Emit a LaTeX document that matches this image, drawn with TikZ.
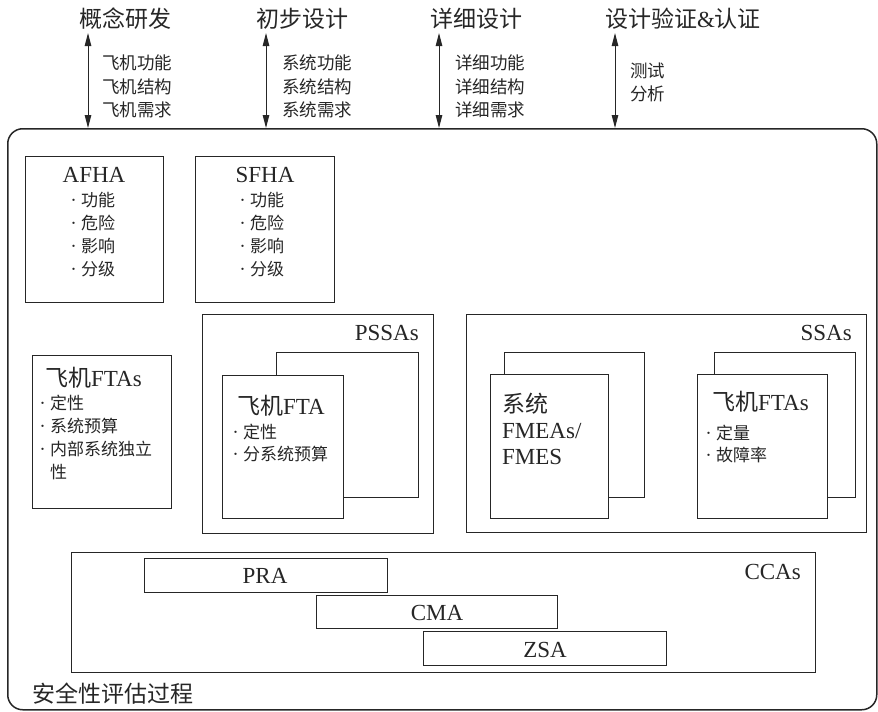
\documentclass[tikz,border=0pt]{standalone}
\usepackage{fontspec}
\setmainfont{Liberation Serif}
\newfontfamily\cjkf{Noto Sans CJK SC}
\usetikzlibrary{arrows.meta}
\definecolor{ink}{HTML}{262626}
\newcommand\zh[1]{{\cjkf #1}}
\newcommand\bu{\raisebox{2pt}{\fontsize{11}{11}\selectfont\textbullet}\hspace{2pt}}
\begin{document}
\begin{tikzpicture}[x=1pt,y=-1pt,
  every node/.style={text=ink, inner sep=0pt},
  box/.style={draw=ink, line width=1.3pt, fill=white, anchor=north west},
  hdr/.style={font=\fontsize{23}{23}\selectfont\cjkf},
  sub/.style={font=\fontsize{17.5}{23.5}\selectfont\cjkf, align=left, anchor=west},
  ttl/.style={font=\fontsize{23}{23}\selectfont},
  lst/.style={font=\fontsize{17}{23}\selectfont\cjkf, align=left, anchor=west},
  lab/.style={font=\fontsize{23}{23}\selectfont, anchor=east},
  arr/.style={{Triangle[length=13pt,width=6.5pt]}-{Triangle[length=13pt,width=6.5pt]}, line width=1pt, draw=ink, fill=ink}]
\useasboundingbox (0,0) rectangle (878,712);

% outer process frame
\node[box, rounded corners=15pt, line width=1.5pt, fill=none, minimum width=869pt, minimum height=581pt] (outer) at (7,128) {};

% headers
\node[hdr] (h1) at (125,19) {概念研发};
\node[hdr] (h2) at (302,19) {初步设计};
\node[hdr] (h3) at (476,19) {详细设计};
\node[hdr] (h4) at (683,19) {设计验证{\rmfamily\&}认证};

% arrows
\coordinate (a1) at (88,33);
\coordinate (a2) at (266,33);
\coordinate (a3) at (439,33);
\coordinate (a4) at (615,33);
\draw[arr] (a1) -- (a1 |- outer.north);
\draw[arr] (a2) -- (a2 |- outer.north);
\draw[arr] (a3) -- (a3 |- outer.north);
\draw[arr] (a4) -- (a4 |- outer.north);

% arrow labels
\node[sub] (s1) at (102,86.5) {飞机功能\\飞机结构\\飞机需求};
\node[sub] (s2) at (282,86.5) {系统功能\\系统结构\\系统需求};
\node[sub] (s3) at (455,86.5) {详细功能\\详细结构\\详细需求};
\node[sub] (s4) at (630,82.5) {测试\\分析};

% AFHA / SFHA
\node[box, minimum width=138pt, minimum height=146pt] (afha) at (25,156) {};
\node[ttl] (afhat) at (94,175) {AFHA};
\node[lst] (afhal) at (68,235) {\bu 功能\\\bu 危险\\\bu 影响\\\bu 分级};
\node[box, minimum width=139pt, minimum height=146pt] (sfha) at (195,156) {};
\node[ttl] (sfhat) at (265,175) {SFHA};
\node[lst] (sfhal) at (237,235) {\bu 功能\\\bu 危险\\\bu 影响\\\bu 分级};

% aircraft FTAs (left)
\node[box, minimum width=139pt, minimum height=153pt] (ftal) at (32,355) {};
\node[ttl, anchor=west] (ftalt) at (45,378) {\zh{飞机}FTAs};
\node[lst] (ftall) at (37,437.5) {\bu 定性\\\bu 系统预算\\\bu 内部系统独立\\\hphantom{\bu}性};

% PSSAs
\node[box, minimum width=231pt, minimum height=219pt] (pssa) at (202,314) {};
\node[lab] (pssat) at (419,333) {PSSAs};
\node[box, minimum width=142pt, minimum height=145pt] (pback) at (276,352) {};
\node[box, minimum width=121pt, minimum height=143pt] (pfront) at (222,375) {};
\node[ttl, anchor=west] (pfrontt) at (237,406) {\zh{飞机}FTA};
\node[lst, font=\fontsize{17}{22}\selectfont\cjkf] (pfrontl) at (230,443) {\bu 定性\\\bu 分系统预算};

% SSAs
\node[box, minimum width=400pt, minimum height=218pt] (ssa) at (466,314) {};
\node[lab] (ssat) at (852,333) {SSAs};
\node[box, minimum width=140pt, minimum height=145pt] (fback) at (504,352) {};
\node[box, minimum width=118pt, minimum height=144pt] (ffront) at (490,374) {};
\node[ttl, align=left, anchor=west, font=\fontsize{23}{26}\selectfont] (ffrontt) at (502,429) {\zh{系统}\\FMEAs/\\FMES};
\node[box, minimum width=141pt, minimum height=145pt] (tback) at (714,352) {};
\node[box, minimum width=130pt, minimum height=144pt] (tfront) at (697,374) {};
\node[ttl, anchor=west] (tfrontt) at (712,402) {\zh{飞机}FTAs};
\node[lst, font=\fontsize{17}{22}\selectfont\cjkf] (tfrontl) at (703,444) {\bu 定量\\\bu 故障率};

% CCAs
\node[box, minimum width=744pt, minimum height=120pt] (cca) at (71,552) {};
\node[lab] (ccat) at (801,572) {CCAs};
\node[box, minimum width=243pt, minimum height=34pt] (pra) at (144,558) {};
\node[ttl] (prat) at (265,576) {PRA};
\node[box, minimum width=241pt, minimum height=33pt] (cma) at (316,595) {};
\node[ttl] (cmat) at (437,613) {CMA};
\node[box, minimum width=243pt, minimum height=34pt] (zsa) at (423,631) {};
\node[ttl] (zsat) at (545,650) {ZSA};

% process label
\node[hdr, anchor=west] (proc) at (32,694) {安全性评估过程};
\end{tikzpicture}
\end{document}
